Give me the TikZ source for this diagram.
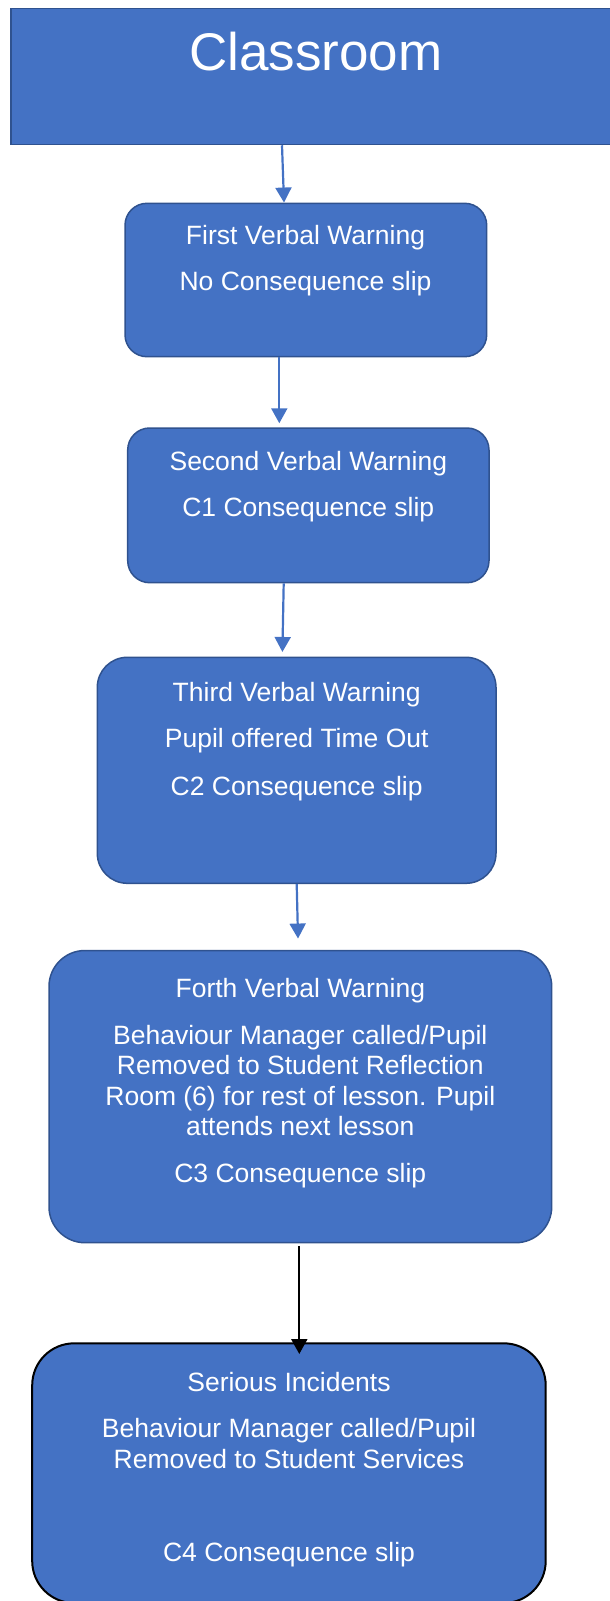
\documentclass[tikz,border=0pt]{standalone}
\usepackage{fontspec}
\setmainfont{Liberation Sans}
\usetikzlibrary{arrows.meta}
\definecolor{boxfill}{HTML}{4472C4}
\definecolor{boxline}{HTML}{2F528F}
\tikzset{
  flowbox/.style={draw=boxline, line width=1.5pt, fill=boxfill, rectangle, inner sep=0pt},
  txt/.style={text=white, inner sep=0pt, anchor=base, font=\fontsize{26.5}{30.5}\selectfont},
  bigtxt/.style={text=white, inner sep=0pt, anchor=base, font=\fontsize{53}{60}\selectfont},
  bluearrow/.style={draw=boxfill, line width=2.2pt, -{Triangle[width=16pt,length=15pt]}},
  blackarrow/.style={draw=black, line width=2.2pt, -{Triangle[width=16pt,length=15pt]}}
}
\begin{document}
\begin{tikzpicture}[x=1pt,y=-1pt]
\useasboundingbox (0,0) rectangle (610,1601);
% boxes
\node[flowbox, minimum width=614pt, minimum height=136pt] (top) at (318,76.5) {};
\node[flowbox, rounded corners=22pt, minimum width=361.7pt, minimum height=153.4pt] (b1) at (305.85,280) {};
\node[flowbox, rounded corners=22pt, minimum width=361.3pt, minimum height=154.7pt] (b2) at (308.35,505.35) {};
\node[flowbox, rounded corners=30pt, minimum width=398.7pt, minimum height=226pt] (b3) at (296.65,770.3) {};
\node[flowbox, rounded corners=36pt, minimum width=502.7pt, minimum height=292.2pt] (b4) at (300.35,1096.6) {};
\node[flowbox, draw=black, line width=2pt, rounded corners=42pt, minimum width=513.5pt, minimum height=259.7pt] (b5) at (288.95,1473.15) {};
% texts
\node[bigtxt] (t0) at (316,70) {Classroom};
\node[txt] (t1a) at (305.5,244.3) {First Verbal Warning};
\node[txt] (t1b) at (305.5,290) {No Consequence slip};
\node[txt] (t2a) at (308.3,470) {Second Verbal Warning};
\node[txt] (t2b) at (308.3,516) {C1 Consequence slip};
\node[txt] (t3a) at (296.7,701) {Third Verbal Warning};
\node[txt] (t3b) at (296.7,747.7) {Pupil offered Time Out};
\node[txt] (t3c) at (296.7,795) {C2 Consequence slip};
\node[txt] (t4a) at (300.3,997.3) {Forth Verbal Warning};
\node[txt] (t4b) at (300.3,1044.3) {Behaviour Manager called/Pupil};
\node[txt] (t4c) at (300.3,1074.8) {Removed to Student Reflection};
\node[txt] (t4d) at (300.3,1105.3) {Room (6) for rest of lesson. Pupil};
\node[txt] (t4e) at (300.3,1135.8) {attends next lesson};
\node[txt] (t4f) at (300.3,1182.7) {C3 Consequence slip};
\node[txt] (t5a) at (289,1391.7) {Serious Incidents};
\node[txt] (t5b) at (289,1437.3) {Behaviour Manager called/Pupil};
\node[txt] (t5c) at (289,1468.3) {Removed to Student Services};
\node[txt] (t5d) at (289,1561.7) {C4 Consequence slip};
% arrow x positions
\coordinate (x0s) at (282,0);
\coordinate (x0e) at (284,0);
\coordinate (x1) at (279.3,0);
\coordinate (x2s) at (283.7,0);
\coordinate (x2e) at (282.3,0);
\coordinate (x3s) at (296.7,0);
\coordinate (x3e) at (298.3,0);
\coordinate (a4end) at (299.3,1354);
% connectors
\draw[bluearrow] (top.south -| x0s) -- (b1.north -| x0e);
\draw[bluearrow, shorten >=4pt] (b1.south -| x1) -- (b2.north -| x1);
\draw[bluearrow, shorten >=4.6pt] (b2.south -| x2s) -- (b3.north -| x2e);
\draw[bluearrow, shorten >=11.2pt] (b3.south -| x3s) -- (b4.north -| x3e);
\draw[blackarrow, shorten <=2.3pt] (b4.south -| a4end) -- (a4end);
\end{tikzpicture}
\end{document}
